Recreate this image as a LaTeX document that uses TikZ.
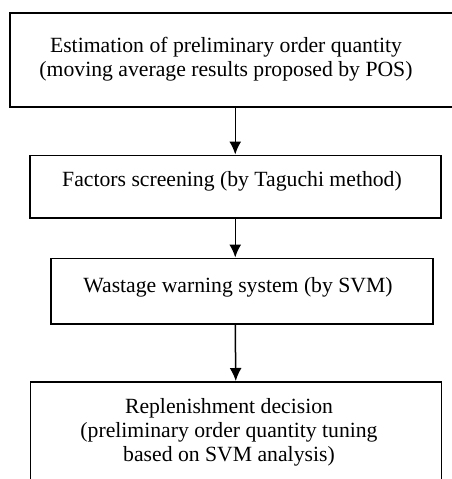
\documentclass[tikz,border=0pt]{standalone}
\usepackage{fontspec}
\setmainfont{Liberation Serif}
\usetikzlibrary{arrows.meta}

\begin{document}
\begin{tikzpicture}[x=1pt,y=-1pt,
  stepbox/.style={draw,line width=1.5pt,inner sep=0pt,anchor=north west},
  steptext/.style={font=\fontsize{21.7}{24}\selectfont,align=center,anchor=base,inner sep=0pt},
  flow/.style={-{Latex[length=13pt,width=12pt]},line width=1.5pt}]
\useasboundingbox (0,0) rectangle (452,479);

\node[stepbox,minimum width=470pt,minimum height=94pt] (est) at (9,12) {};
\node[stepbox,minimum width=411pt,minimum height=62.5pt] (fac) at (29,154.5) {};
\node[stepbox,minimum width=382pt,minimum height=65.5pt] (warn) at (50,257.5) {};
\node[stepbox,minimum width=411pt,minimum height=130pt] (rep) at (29.5,381) {};

\node[steptext] (est-t) at (226,76.7) {Estimation of preliminary order quantity\\(moving average results proposed by POS)};
\node[steptext] (fac-t) at (232,186.7) {Factors screening (by Taguchi method)};
\node[steptext] (warn-t) at (238,292) {Wastage warning system (by SVM)};
\node[steptext] (rep-t) at (229,461.5) {Replenishment decision\\(preliminary order quantity tuning\\based on SVM analysis)};

\draw[flow] (fac.north |- est.south) -- (fac.north);
\draw[flow] (fac.south) -- (fac.south |- warn.north);
\draw[flow] (fac.south |- warn.south) -- (rep.north);
\end{tikzpicture}
\end{document}
